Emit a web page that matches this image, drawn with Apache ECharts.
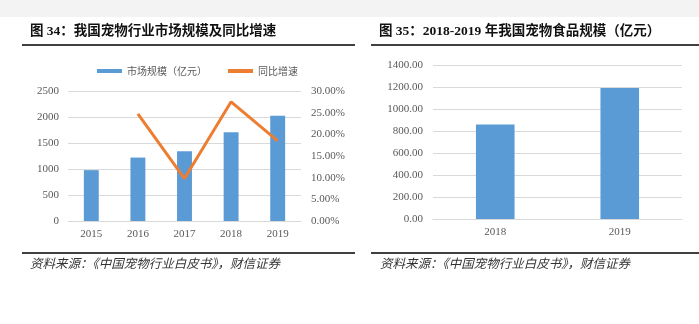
<!DOCTYPE html>
<html>
<head>
<meta charset="utf-8">
<script src="https://cdn.jsdelivr.net/npm/echarts@6/dist/echarts.min.js"></script>
<style>
  html, body { margin: 0; padding: 0; background: #ffffff; }
  #chart { width: 699px; height: 324px; }
</style>
</head>
<body>
<div id="chart"></div>
<script>
// Figure 34: pet industry market size (100M CNY) and YoY growth
const years = ['2015', '2016', '2017', '2018', '2019'];
const marketSize = [978, 1220, 1340, 1708, 2024];
const yoyGrowth = [null, 24.7, 9.8, 27.5, 18.5];

// Figure 35: pet food market size (100M CNY)
const foodYears = ['2018', '2019'];
const foodSize = [860, 1190];

const titleLeft = '图 34：我国宠物行业市场规模及同比增速';
const titleRight = '图 35：2018-2019 年我国宠物食品规模（亿元）';
const sourceText = '资料来源：《中国宠物行业白皮书》，财信证券';
const seriesNames = ['市场规模（亿元）', '同比增速'];

const serif = '"Liberation Serif", "Times New Roman", serif';
const cjkBold = '"Liberation Serif", "Noto Sans CJK SC", serif';
const axisGray = '#595959';
const gridGray = '#d9d9d9';

const chart = echarts.init(document.getElementById('chart'), null, { renderer: 'canvas' });

const axisLabel = { color: axisGray, fontFamily: serif, fontSize: 11 };

chart.setOption({
  backgroundColor: '#ffffff',
  animation: false,
  graphic: [
    { type: 'rect', shape: { x: 0, y: 0, width: 699, height: 17 }, style: { fill: '#f3f3f3' }, silent: true },
    { type: 'text', left: 30, top: 25, style: { text: titleLeft, font: 'bold 13.5px ' + cjkBold, fill: '#111' } },
    { type: 'text', left: 379, top: 25, style: { text: titleRight, font: 'bold 13.5px ' + cjkBold, fill: '#111' } },
    { type: 'line', shape: { x1: 22, y1: 45, x2: 355, y2: 45 }, style: { stroke: '#000', lineWidth: 1.3 } },
    { type: 'line', shape: { x1: 371, y1: 45, x2: 699, y2: 45 }, style: { stroke: '#000', lineWidth: 1.3 } },
    { type: 'line', shape: { x1: 22, y1: 253, x2: 355, y2: 253 }, style: { stroke: '#000', lineWidth: 1.3 } },
    { type: 'line', shape: { x1: 371, y1: 253, x2: 699, y2: 253 }, style: { stroke: '#000', lineWidth: 1.3 } },
    { type: 'text', left: 30, top: 257, style: { text: sourceText, font: 'italic 12.5px "Noto Sans CJK SC", serif', fill: '#333' } },
    { type: 'text', left: 380, top: 257, style: { text: sourceText, font: 'italic 12.5px "Noto Sans CJK SC", serif', fill: '#333' } }
  ],
  legend: {
    left: 92,
    top: 61,
    itemWidth: 25,
    itemHeight: 4,
    itemGap: 21,
    textStyle: { color: axisGray, fontSize: 10, fontFamily: '"Noto Sans CJK SC", sans-serif', padding: [0, 0, 0, 0] },
    data: [
      { name: seriesNames[0], icon: 'rect' },
      { name: seriesNames[1], icon: 'rect' }
    ]
  },
  grid: [
    { left: 68, top: 91, width: 233, height: 130 },
    { left: 433, top: 65, width: 249, height: 154 }
  ],
  xAxis: [
    {
      type: 'category', gridIndex: 0, data: years,
      axisLine: { lineStyle: { color: gridGray } }, axisTick: { show: false },
      axisLabel: Object.assign({ margin: 8 }, axisLabel)
    },
    {
      type: 'category', gridIndex: 1, data: foodYears,
      axisLine: { lineStyle: { color: gridGray } }, axisTick: { show: false },
      axisLabel: Object.assign({ margin: 8 }, axisLabel)
    }
  ],
  yAxis: [
    {
      type: 'value', gridIndex: 0, min: 0, max: 2500, interval: 500,
      axisLine: { show: false }, axisTick: { show: false },
      splitLine: { lineStyle: { color: gridGray } },
      axisLabel: Object.assign({ margin: 9, formatter: v => String(v) }, axisLabel)
    },
    {
      type: 'value', gridIndex: 0, min: 0, max: 30, interval: 5, position: 'right',
      axisLine: { show: false }, axisTick: { show: false }, splitLine: { show: false },
      axisLabel: Object.assign({ margin: 10, formatter: v => v.toFixed(2) + '%' }, axisLabel)
    },
    {
      type: 'value', gridIndex: 1, min: 0, max: 1400, interval: 200,
      axisLine: { show: false }, axisTick: { show: false },
      splitLine: { lineStyle: { color: gridGray } },
      axisLabel: Object.assign({ margin: 10, formatter: v => v.toFixed(2) }, axisLabel)
    }
  ],
  series: [
    {
      name: seriesNames[0], type: 'bar', xAxisIndex: 0, yAxisIndex: 0,
      data: marketSize, barWidth: '32%', itemStyle: { color: '#5b9bd5' }
    },
    {
      name: seriesNames[1], type: 'line', xAxisIndex: 0, yAxisIndex: 1,
      data: yoyGrowth, symbol: 'none', lineStyle: { color: '#ed7d31', width: 3 },
      itemStyle: { color: '#ed7d31' }
    },
    {
      name: 'food', type: 'bar', xAxisIndex: 1, yAxisIndex: 2,
      data: foodSize, barWidth: '31%', itemStyle: { color: '#5b9bd5' }
    }
  ]
});
</script>
</body>
</html>
